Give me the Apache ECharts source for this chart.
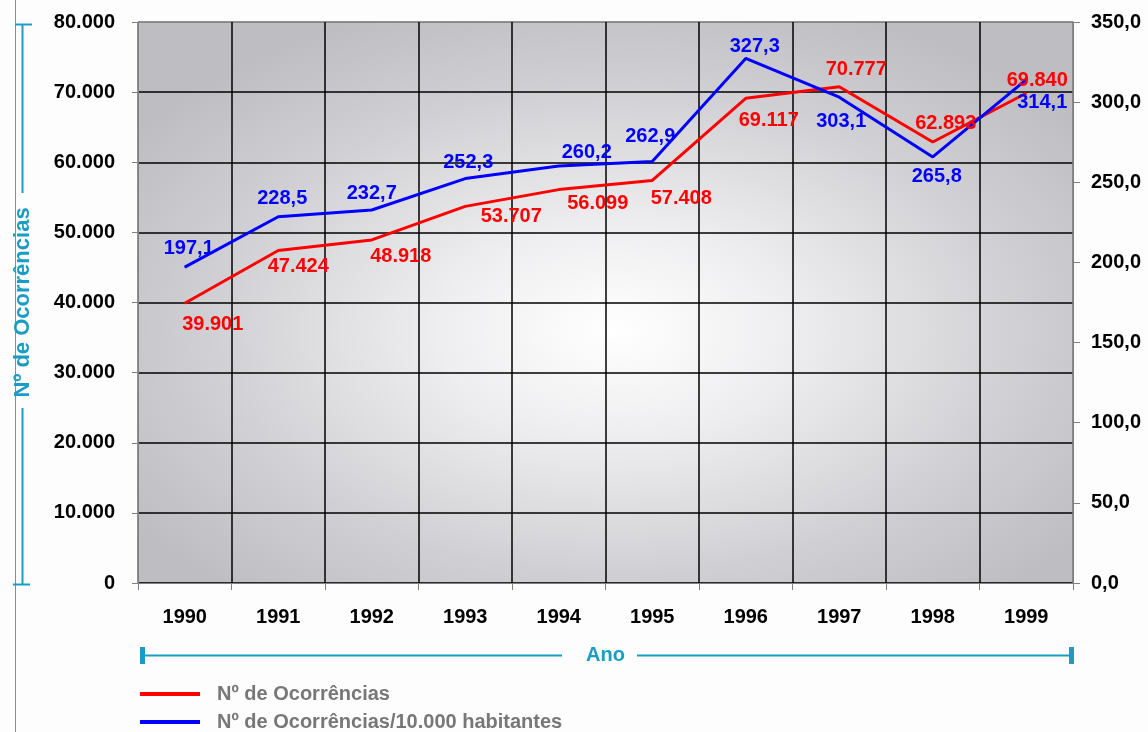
<!DOCTYPE html>
<html>
<head>
<meta charset="utf-8">
<script src="https://cdn.jsdelivr.net/npm/echarts@6/dist/echarts.min.js"></script>
<style>
  html, body { margin: 0; padding: 0; background: #fdfdfd; }
  #chart { width: 1148px; height: 732px; }
</style>
</head>
<body>
<div id="chart"></div>
<script>
const years = ["1990", "1991", "1992", "1993", "1994", "1995", "1996", "1997", "1998", "1999"];
const occurrences = [39901, 47424, 48918, 53707, 56099, 57408, 69117, 70777, 62893, 69840];
const perTenThousand = [197.1, 228.5, 232.7, 252.3, 260.2, 262.9, 327.3, 303.1, 265.8, 314.1];
const leftScale = { min: 0, max: 80000, interval: 10000 };
const rightScale = { min: 0, max: 350, interval: 50 };
const seriesNames = ["Nº de Ocorrências", "Nº de Ocorrências/10.000 habitantes"];

// where each value label sits relative to its point (dx, dy)
const redLabelOffsets = [[28, 21], [20, 16], [29, 17], [46, 10], [39, 14], [29, 18], [23, 22], [17, -17], [13, -18], [11, -13]];
const blueLabelOffsets = [[4, -19], [4, -18], [0, -17], [3, -16], [28, -13], [-2, -25], [9, -12], [2, 24], [4, 20], [16, 23]];

const font = "'Liberation Sans', Arial, sans-serif";
const cyan = "#1a9cc4";
const axisGray = "#808080";
const red = "#ff0000";
const blue = "#0000ff";

const thousands = (v) => String(Math.round(v)).replace(/\B(?=(\d{3})+(?!\d))/g, ".");
const decimal = (v) => Number(v).toFixed(1).replace(".", ",");

const plot = { left: 138, top: 22, width: 935, height: 561 };

const chart = echarts.init(document.getElementById("chart"), null, { renderer: "canvas" });

function labelled(values, offsets) {
  return values.map((value, i) => ({ value, label: { offset: offsets[i] } }));
}

function lineSeries(name, values, offsets, color, axisIndex, formatter) {
  return {
    name,
    type: "line",
    yAxisIndex: axisIndex,
    data: labelled(values, offsets),
    symbol: "circle",
    symbolSize: 1,
    showSymbol: true,
    lineStyle: { width: 3, color },
    itemStyle: { color },
    label: {
      show: true,
      position: "inside",
      formatter: (p) => formatter(p.value),
      color,
      fontSize: 20,
      fontWeight: "bold",
      fontFamily: font,
    },
    emphasis: { disabled: true },
  };
}

function legendRow(name, top) {
  return {
    left: 140,
    top,
    padding: 0,
    icon: "rect",
    itemWidth: 60,
    itemHeight: 4,
    selectedMode: false,
    textStyle: { color: "#777777", fontSize: 20, fontWeight: "bold", fontFamily: font, padding: [0, 0, 0, 12] },
    data: [name],
  };
}

const hSplitColors = ["#000", "#000", "#000", "#000", "#000", "#000", "#000", "#000", axisGray];
const vSplitColors = [axisGray, "#000", "#000", "#000", "#000", "#000", "#000", "#000", "#000", "#000", axisGray];

chart.setOption({
  animation: false,
  backgroundColor: "#fdfdfd",
  textStyle: { fontFamily: font },
  grid: {
    left: plot.left,
    top: plot.top,
    right: 1148 - plot.left - plot.width,
    bottom: 732 - plot.top - plot.height,
    show: true,
    borderColor: axisGray,
    borderWidth: 1,
    backgroundColor: "transparent",
  },
  legend: [legendRow(seriesNames[0], 684), legendRow(seriesNames[1], 712)],
  xAxis: {
    type: "category",
    data: years,
    boundaryGap: true,
    axisLine: { lineStyle: { color: axisGray, width: 1 } },
    axisTick: { show: true, length: 7, lineStyle: { color: axisGray } },
    axisLabel: { color: "#000", fontSize: 20, fontWeight: "bold", fontFamily: font, margin: 24 },
    splitLine: { show: true, lineStyle: { color: vSplitColors, width: 1.5 } },
    name: "Ano",
    nameLocation: "middle",
    nameGap: 62,
    nameTextStyle: { color: cyan, fontSize: 20, fontWeight: "bold", fontFamily: font },
  },
  yAxis: [
    {
      type: "value",
      position: "left",
      ...leftScale,
      axisLine: { show: true, lineStyle: { color: axisGray } },
      axisTick: { show: true, length: 6, lineStyle: { color: axisGray } },
      axisLabel: { formatter: thousands, color: "#000", fontSize: 20, fontWeight: "bold", fontFamily: font, margin: 23 },
      splitLine: { show: true, lineStyle: { color: hSplitColors, width: 1.5 } },
      name: seriesNames[0],
      nameLocation: "middle",
      nameRotate: 90,
      nameGap: 104,
      nameTextStyle: { color: cyan, fontSize: 22, fontWeight: "bold", fontFamily: font },
    },
    {
      type: "value",
      position: "right",
      ...rightScale,
      axisLine: { show: true, lineStyle: { color: axisGray } },
      axisTick: { show: true, length: 7, lineStyle: { color: axisGray } },
      axisLabel: { formatter: decimal, color: "#000", fontSize: 20, fontWeight: "bold", fontFamily: font, margin: 18 },
      splitLine: { show: false },
    },
  ],
  graphic: [
    {
      type: "rect",
      z: -10,
      silent: true,
      x: plot.left,
      y: plot.top,
      scaleX: plot.width / plot.height,
      shape: { x: 0, y: 0, width: plot.height, height: plot.height },
      style: {
        fill: new echarts.graphic.RadialGradient(0.51, 0.55, 0.62, [
          { offset: 0, color: "#ffffff" },
          { offset: 0.3, color: "#eeeef0" },
          { offset: 0.7, color: "#d0d0d4" },
          { offset: 1, color: "#bebec2" },
        ]),
      },
    },
    { type: "line", silent: true, shape: { x1: 15.5, y1: 0, x2: 15.5, y2: 732 }, style: { stroke: "#8c8c8c", lineWidth: 1 } },
    { type: "line", silent: true, shape: { x1: 22.5, y1: 24, x2: 22.5, y2: 193 }, style: { stroke: cyan, lineWidth: 2 } },
    { type: "line", silent: true, shape: { x1: 15, y1: 24.5, x2: 32, y2: 24.5 }, style: { stroke: cyan, lineWidth: 2 } },
    { type: "line", silent: true, shape: { x1: 22.5, y1: 408, x2: 22.5, y2: 584 }, style: { stroke: cyan, lineWidth: 2 } },
    { type: "line", silent: true, shape: { x1: 13, y1: 584.5, x2: 30, y2: 584.5 }, style: { stroke: cyan, lineWidth: 2 } },
    { type: "line", silent: true, shape: { x1: 143, y1: 655.5, x2: 562, y2: 655.5 }, style: { stroke: cyan, lineWidth: 2 } },
    { type: "line", silent: true, shape: { x1: 637, y1: 655.5, x2: 1071, y2: 655.5 }, style: { stroke: cyan, lineWidth: 2 } },
    { type: "rect", silent: true, shape: { x: 140, y: 647, width: 5, height: 17 }, style: { fill: cyan } },
    { type: "rect", silent: true, shape: { x: 1069, y: 647, width: 5, height: 17 }, style: { fill: cyan } },
  ],
  series: [
    lineSeries(seriesNames[0], occurrences, redLabelOffsets, red, 0, thousands),
    lineSeries(seriesNames[1], perTenThousand, blueLabelOffsets, blue, 1, decimal),
  ],
});
</script>
</body>
</html>
